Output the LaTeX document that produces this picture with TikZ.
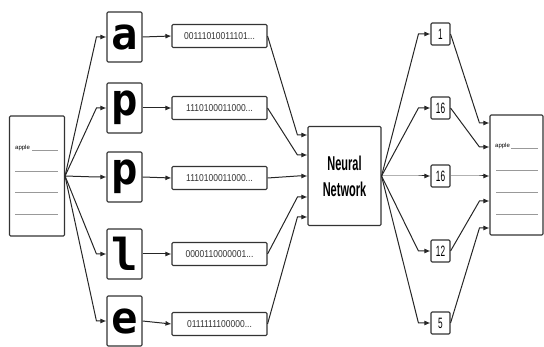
\documentclass[tikz,border=0pt]{standalone}
\usepackage{fontspec}
\setmainfont{Liberation Sans}
\newfontfamily\condensed[FakeStretch=0.55]{Liberation Sans}
\newfontfamily\bitsfont[FakeStretch=0.85]{Liberation Sans}
\newfontfamily\glyphs{DejaVu Sans Mono}
\usetikzlibrary{arrows.meta}
\begin{document}
\begin{tikzpicture}[x=1pt,y=-1pt,
  frame/.style={draw=black!80, line width=1.1pt, rounded corners=1.2pt, inner sep=0pt, fill=white},
  letterbox/.style={frame, minimum width=35pt, minimum height=50pt, font=\glyphs\bfseries\fontsize{44}{44}\selectfont},
  bitbox/.style={frame, minimum width=95pt, minimum height=23pt, font=\bitsfont\fontsize{10}{10}\selectfont, text=black!80},
  numbox/.style={frame, minimum width=19pt, minimum height=22pt, font=\condensed\fontsize{15}{15}\selectfont},
  docbox/.style={frame, minimum width=55pt, minimum height=120pt},
  netbox/.style={frame, minimum width=73pt, minimum height=99pt, font=\condensed\bfseries\fontsize{20}{26}\selectfont, align=center},
  link/.style={draw=black!85, line width=1pt, -{Latex[length=6pt,width=5pt]}},
  docline/.style={draw=black!40, line width=0.6pt},
  tinyword/.style={font=\fontsize{6}{6}\selectfont, inner sep=0pt, anchor=base west}
]
\useasboundingbox (0,0) rectangle (544,347);

% documents at both ends
\node[docbox] (src) at (37,176) {};
\node[docbox, minimum width=53pt] (dst) at (516.5,175) {};

% one box per character
\foreach \c/\y [count=\i] in {a/37,p/108,p/177,l/254,e/321}
  \node[letterbox] (ch\i) at (124.5,\y) {\c};

% binary encodings
\node[bitbox] (bits1) at (219.5,36) {00111010011101...};
\node[bitbox] (bits2) at (219.5,108) {1110100011000...};
\node[bitbox] (bits3) at (219.5,178) {1110100011000...};
\node[bitbox] (bits4) at (219.5,254) {0000110000001...};
\node[bitbox] (bits5) at (219.5,324) {0111111100000...};

% network
\node[netbox] (nn) at (344.5,176) {Neural\\Network};

% outputs
\node[numbox] (n1) at (440.5,34) {1};
\node[numbox] (n2) at (440.5,108) {16};
\node[numbox] (n3) at (440.5,176) {16};
\node[numbox] (n4) at (440.5,251) {12};
\node[numbox] (n5) at (440.5,323) {5};

% text lines inside the documents
\node[tinyword] (srcword) at (15,150) {apple};
\draw[docline] (32,150) -- (58,150);
\foreach \y in {171,192,214} \draw[docline] (15,\y) -- (58,\y);
\node[tinyword] (dstword) at (495,148) {apple};
\draw[docline] (511,148) -- (538,148);
\foreach \y in {170,192,214} \draw[docline] (496,\y) -- (538,\y);

% connectors
\foreach \i in {1,...,5} {
  \draw[link] (src.east) -- ([xshift=-10pt]ch\i.west) -- (ch\i.west);
  \draw[link] (ch\i.east) -- (bits\i.west);
  \draw[link] (nn.east) -- ([xshift=-12pt]n\i.west) -- (n\i.west);
}
\foreach \i/\d in {1/41,2/21,3/0,4/-21,5/-41}
  \draw[link] (bits\i.east) -- ([shift={(-10pt,\d pt)}]nn.west) -- ([yshift=\d pt]nn.west);
\foreach \i/\d in {1/52,2/28,3/-1,4/-26,5/-53}
  \draw[link] (n\i.east) -- ([shift={(-10pt,\d pt)}]dst.west) -- ([yshift=\d pt]dst.west);
\end{tikzpicture}
\end{document}
